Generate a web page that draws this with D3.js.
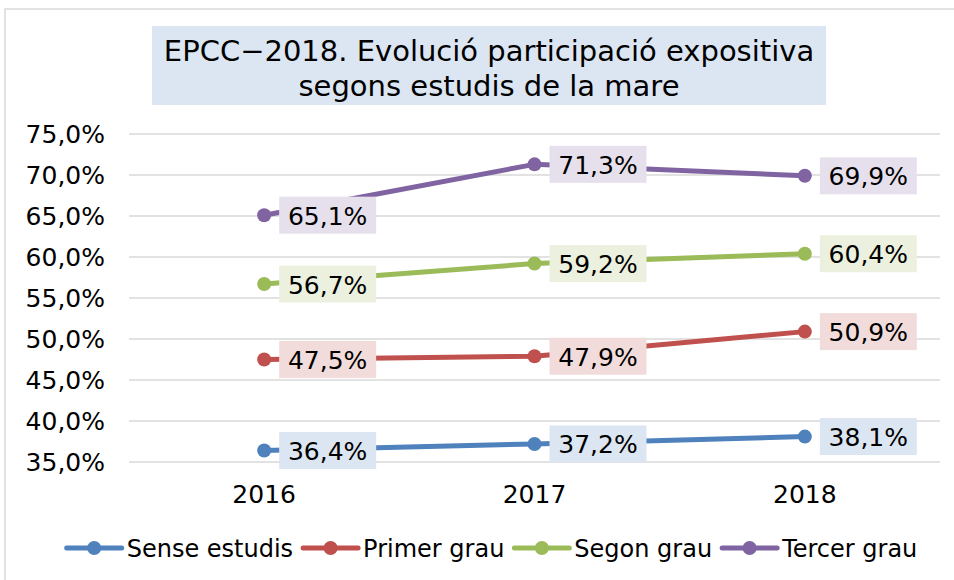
<!DOCTYPE html>
<html>
<head>
<meta charset="utf-8">
<script src="https://cdn.jsdelivr.net/npm/d3@7"></script>
<style>
  body { margin: 0; background: #fff; }
  text { font-family: "DejaVu Sans", Verdana, sans-serif; fill: #000; }
</style>
</head>
<body>
<div id="chart"></div>
<script>
var width = 954;
var height = 580;

var years = ['2016', '2017', '2018'];
var seriesNames = ['Sense estudis', 'Primer grau', 'Segon grau', 'Tercer grau'];
var senseEstudis = [36.4, 37.2, 38.1];
var primerGrau = [47.5, 47.9, 50.9];
var segonGrau = [56.7, 59.2, 60.4];
var tercerGrau = [65.1, 71.3, 69.9];
var yTicks = [35, 40, 45, 50, 55, 60, 65, 70, 75];

var colors = ['#4F81BD', '#C0504D', '#9BBB59', '#8064A2'];
var lightColors = ['#DCE6F2', '#F2DCDB', '#EBF1DE', '#E6E0EC'];

var series = [senseEstudis, primerGrau, segonGrau, tercerGrau].map(function(vals, i) {
  return { name: seriesNames[i], values: vals, color: colors[i], light: lightColors[i] };
});

var fmt = function(v) {
  return v.toFixed(1).replace('.', ',') + '%';
};

var svg = d3.select('#chart').append('svg')
  .attr('width', width)
  .attr('height', height);

// outer chart border
svg.append('rect')
  .attr('x', 5).attr('y', 9)
  .attr('width', 960).attr('height', 600)
  .attr('fill', 'none')
  .attr('stroke', '#D9D9D9')
  .attr('stroke-width', 1.5);

// title
svg.append('rect')
  .attr('x', 152).attr('y', 26)
  .attr('width', 674).attr('height', 79)
  .attr('fill', '#DCE6F2');

var title = svg.append('text')
  .attr('text-anchor', 'middle')
  .style('font-size', '29px');
title.append('tspan').attr('x', 489).attr('y', 61).text('EPCC\u22122018. Evolució participació expositiva');
title.append('tspan').attr('x', 489).attr('y', 96).text('segons estudis de la mare');

var plotLeft = 129, plotRight = 940;

var x = d3.scalePoint()
  .domain(years)
  .range([plotLeft, plotRight])
  .padding(0.5);

var y = d3.scaleLinear()
  .domain([35, 75])
  .range([462, 134]);

// gridlines
svg.append('g')
  .selectAll('line')
  .data(yTicks)
  .enter()
  .append('line')
  .attr('x1', plotLeft).attr('x2', plotRight)
  .attr('y1', function(d) { return y(d); })
  .attr('y2', function(d) { return y(d); })
  .attr('stroke', '#D9D9D9')
  .attr('stroke-width', 1.5);

// y tick labels
svg.append('g')
  .selectAll('text')
  .data(yTicks)
  .enter()
  .append('text')
  .attr('x', 105)
  .attr('y', function(d) { return y(d) + 9; })
  .attr('text-anchor', 'end')
  .style('font-size', '25px')
  .text(function(d) { return fmt(d); });

// x tick labels
svg.append('g')
  .selectAll('text')
  .data(years)
  .enter()
  .append('text')
  .attr('x', function(d) { return x(d); })
  .attr('y', 503)
  .attr('text-anchor', 'middle')
  .style('font-size', '25px')
  .text(function(d) { return d; });

var line = d3.line()
  .x(function(d, i) { return x(years[i]); })
  .y(function(d) { return y(d); });

svg.append('g')
  .selectAll('path')
  .data(series)
  .enter()
  .append('path')
  .attr('d', function(d) { return line(d.values); })
  .attr('fill', 'none')
  .attr('stroke', function(d) { return d.color; })
  .attr('stroke-width', 5)
  .attr('stroke-linejoin', 'round')
  .attr('stroke-linecap', 'round');

series.forEach(function(s) {
  var g = svg.append('g');
  g.selectAll('circle')
    .data(s.values)
    .enter()
    .append('circle')
    .attr('cx', function(d, i) { return x(years[i]); })
    .attr('cy', function(d) { return y(d); })
    .attr('r', 7)
    .attr('fill', s.color);
});

// data labels
series.forEach(function(s) {
  var g = svg.append('g');
  var lab = g.selectAll('g')
    .data(s.values)
    .enter()
    .append('g')
    .attr('transform', function(d, i) {
      return 'translate(' + (x(years[i]) + 15) + ',' + y(d) + ')';
    });
  lab.append('rect')
    .attr('x', 0).attr('y', -18.5)
    .attr('width', 97).attr('height', 37)
    .attr('fill', s.light);
  lab.append('text')
    .attr('x', 48.5).attr('y', 9.5)
    .attr('text-anchor', 'middle')
    .style('font-size', '25px')
    .text(function(d) { return fmt(d); });
});

// legend
var legend = svg.append('g');
var items = legend.selectAll('g')
  .data(series)
  .enter()
  .append('g');
items.append('line')
  .attr('x1', 0).attr('x2', 55)
  .attr('y1', 0).attr('y2', 0)
  .attr('stroke', function(d) { return d.color; })
  .attr('stroke-width', 5)
  .attr('stroke-linecap', 'round');
items.append('circle')
  .attr('cx', 27.5).attr('cy', 0).attr('r', 7)
  .attr('fill', function(d) { return d.color; });
items.append('text')
  .attr('x', 60).attr('y', 8.5)
  .style('font-size', '24px')
  .text(function(d) { return d.name; });

var pos = 0;
items.each(function() {
  var w = d3.select(this).select('text').node().getComputedTextLength();
  d3.select(this).attr('transform', 'translate(' + pos + ',0)');
  pos += 60 + w + 10;
});
var total = pos - 10;
legend.attr('transform', 'translate(' + (492 - total / 2) + ',548)');
</script>
</body>
</html>
